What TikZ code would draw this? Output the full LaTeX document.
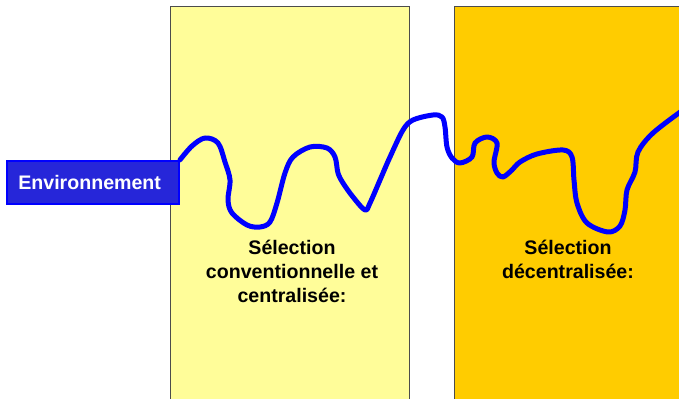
\documentclass[tikz,border=0pt]{standalone}
\usepackage{fontspec}
\setmainfont{Liberation Sans}
\usepackage{xcolor}
\usetikzlibrary{positioning}

\definecolor{paleyellow}{HTML}{FFFD99}
\definecolor{gold}{HTML}{FFCC00}
\definecolor{envblue}{HTML}{2626D9}

\begin{document}
\begin{tikzpicture}[
        x=0.75pt,
        y=-0.75pt,
        font=\fontsize{14.7}{18}\selectfont\bfseries,
        zone/.style={
            draw=black!70,
            line width=0.75pt
        },
        tag/.style={
            rectangle,
            draw=blue,
            fill=envblue,
            text=white,
            line width=1.5pt,
            minimum width=129pt,
            minimum height=32.5pt,
            text width=112pt,
            align=left,
            inner xsep=7.5pt
        },
        caption/.style={
            align=center
        },
        river/.style={
            draw=blue,
            line width=3.75pt,
            line cap=round,
            line join=round
        },
        ]

        \useasboundingbox (0,0) rectangle (679,399);

        % the two selection zones
        \filldraw [zone,fill=paleyellow] (170,7) rectangle (409,420);
        \filldraw [zone,fill=gold] (454,7) rectangle (700,420);

        \node [tag] (environment) at (93,182.5) {Environnement};

        \node [caption] (conventional-selection) at (292,271) {Sélection\\conventionnelle et\\centralisée:};
        \node [caption] (decentralised-selection) at (568,259) {Sélection\\décentralisée:};

        % winding line leaving the environment box
        \path [river] plot [smooth, tension=0.55] coordinates {
            (environment.north east) (192,146) (205,138) (218,143) (225,162)
            (230,180) (228,200) (232,213) (247,225) (260,227) (270,222)
            (277,203) (285,173) (293,157) (310,147) (327,148) (335,157)
            (338,173) (343,183) (353,197) (365,210) (370,203) (380,180)
            (390,157) (403,130) (413,120) (433,115) (442,117) (445,127)
            (447,147) (452,158) (460,163) (472,157) (475,143) (487,137)
            (497,143) (494,162) (497,173) (503,177) (512,170) (520,162)
            (537,154) (563,150) (572,157) (574,180) (577,203) (587,223)
            (608,232) (620,226) (625,210) (627,190) (635,172) (638,152)
            (653,133) (683,110)};
    \end{tikzpicture}
\end{document}
